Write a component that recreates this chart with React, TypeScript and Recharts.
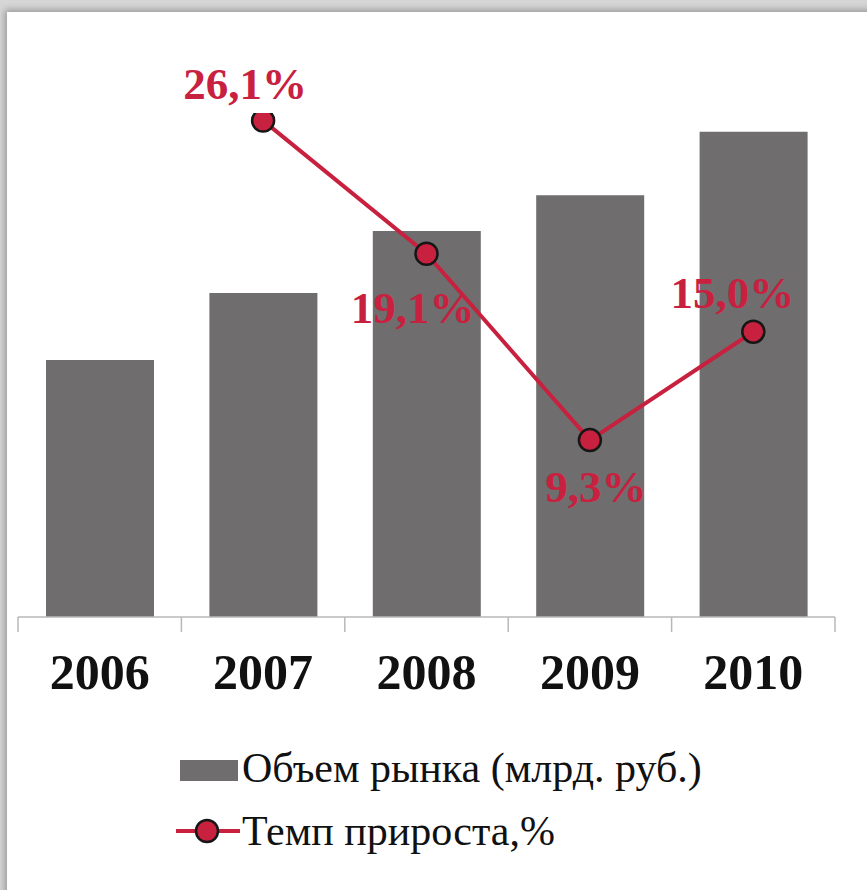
import React from 'react';
import { ComposedChart, Bar, Line, XAxis, YAxis, LabelList } from 'recharts';

const years = ['2006', '2007', '2008', '2009', '2010'];
const marketVolume = [51, 64.3, 76.6, 83.7, 96.3];
const growthRate: (number | null)[] = [null, 26.1, 19.1, 9.3, 15.0];

const chartData = years.map((year, i) => ({
  year,
  volume: marketVolume[i],
  growth: growthRate[i],
}));

// edge ticks at category boundaries, labels at centres
const edgeTicks = years.flatMap((_, i) => [i, i + 0.5]).concat(years.length);

const BAR_COLOR = '#6f6d6e';
const RED = '#c8203f';
const FONT = '"Liberation Serif", "Times New Roman", serif';

// label offsets per point (dx, dy from the marker centre)
const labelOffsets = [
  [0, 0],
  [-18, -38],
  [-14, 53],
  [6, 46],
  [-21, -40],
];

const EdgeTick = (props: any) => {
  const { x, y, payload } = props;
  const v = payload.value as number;
  if (Number.isInteger(v)) {
    return <line x1={x} x2={x} y1={y} y2={y + 15} stroke="#b8b8b8" strokeWidth={1.5} />;
  }
  return (
    <text
      x={x}
      y={y + 72}
      textAnchor="middle"
      fill="#111"
      fontFamily={FONT}
      fontWeight="bold"
      fontSize={50}
    >
      {years[Math.floor(v)]}
    </text>
  );
};

const GrowthLabel = (props: any) => {
  const { x, y, value, index } = props;
  if (value == null) return null;
  const [dx, dy] = labelOffsets[index] || [0, -30];
  return (
    <text
      x={x + dx}
      y={y + dy}
      dy={16}
      textAnchor="middle"
      fill={RED}
      fontFamily={FONT}
      fontWeight="bold"
      fontSize={45}
    >
      {value.toFixed(1).replace('.', ',')}%
    </text>
  );
};

export default function App() {
  return (
    <div style={{ position: 'absolute', left: 0, top: 0, width: 867, height: 890, background: '#d6d6d6', overflow: 'hidden' }}>
      <div
        style={{
          position: 'absolute',
          left: 7,
          top: 12,
          width: 872,
          height: 890,
          background: '#fff',
          boxShadow: '0 0 7px 2px rgba(0,0,0,0.3)',
        }}
      />
      <div style={{ position: 'absolute', left: 0, top: 0 }}>
        <ComposedChart
          width={867}
          height={890}
          data={chartData}
          margin={{ top: 113, right: 32, left: 18, bottom: 173 }}
        >
          <XAxis dataKey="year" hide height={0} />
          <XAxis
            xAxisId="edge"
            dataKey="year"
            type="number"
            domain={[0, years.length]}
            allowDataOverflow
            ticks={edgeTicks}
            interval={0}
            tick={<EdgeTick />}
            tickLine={false}
            tickSize={0}
            tickMargin={0}
            height={100}
            axisLine={{ stroke: '#b8b8b8', strokeWidth: 1.5 }}
          />
          <YAxis yAxisId="vol" hide domain={[0, 100]} allowDataOverflow />
          <YAxis yAxisId="pct" hide orientation="right" domain={[0, 26.5]} allowDataOverflow />
          <Bar yAxisId="vol" dataKey="volume" fill={BAR_COLOR} barSize={108} isAnimationActive={false} />
          <Line
            yAxisId="pct"
            dataKey="growth"
            stroke={RED}
            strokeWidth={4}
            dot={{ r: 11, fill: RED, stroke: '#161616', strokeWidth: 2.5 }}
            activeDot={false}
            isAnimationActive={false}
          >
            <LabelList dataKey="growth" content={<GrowthLabel />} />
          </Line>
        </ComposedChart>
      </div>
      <div style={{ position: 'absolute', left: 176, top: 743, fontFamily: FONT, fontSize: 42, color: '#111', lineHeight: '50px' }}>
        <div style={{ display: 'flex', alignItems: 'center', height: 50 }}>
          <svg width={66} height={50}>
            <rect x={4} y={17} width={58} height={21} fill={BAR_COLOR} />
          </svg>
          <span>Объем рынка (млрд. руб.)</span>
        </div>
        <div style={{ display: 'flex', alignItems: 'center', height: 50, marginTop: 13 }}>
          <svg width={66} height={50}>
            <line x1={0} x2={64} y1={25} y2={25} stroke={RED} strokeWidth={4} />
            <circle cx={31} cy={25} r={11} fill={RED} stroke="#161616" strokeWidth={2.5} />
          </svg>
          <span>Темп прироста,%</span>
        </div>
      </div>
    </div>
  );
}
